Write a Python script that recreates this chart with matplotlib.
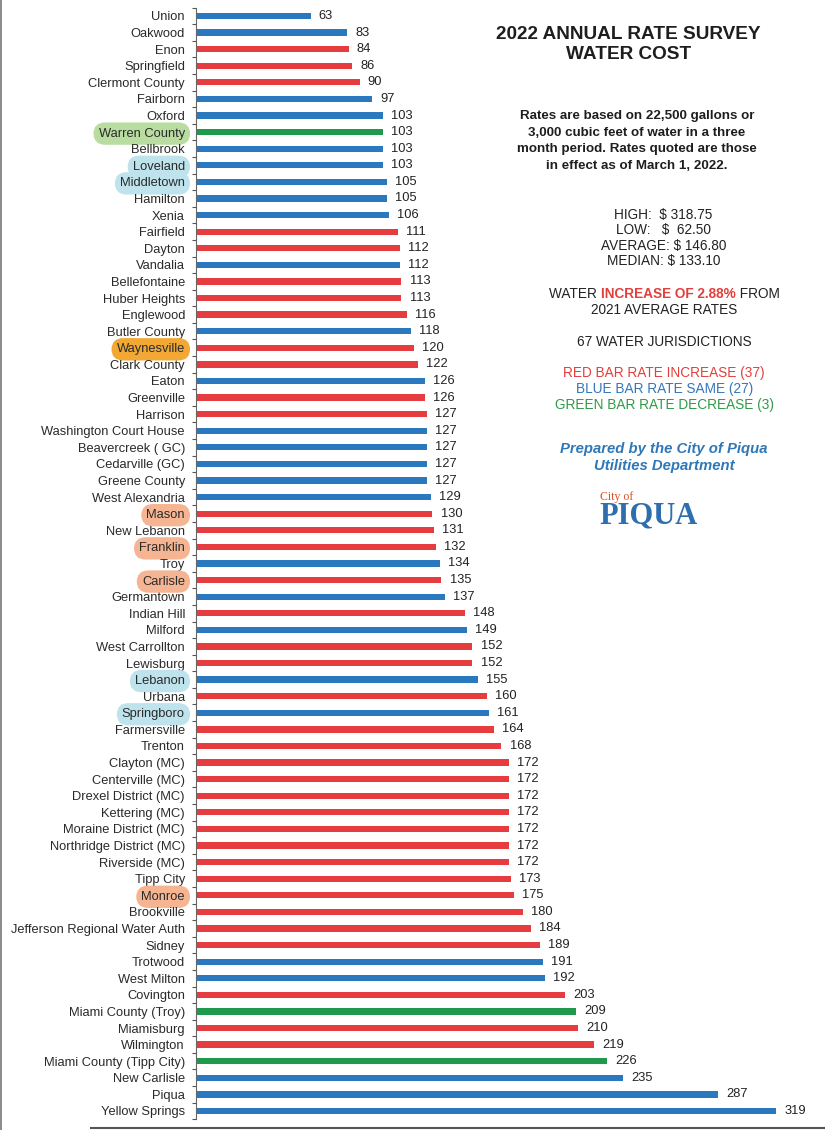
import matplotlib.pyplot as plt
import numpy as np

plt.rcParams['font.family'] = ['Liberation Sans', 'DejaVu Sans']

# Data
places = [
    "Union", "Oakwood", "Enon", "Springfield", "Clermont County", "Fairborn",
    "Oxford", "Warren County", "Bellbrook", "Loveland", "Middletown", "Hamilton",
    "Xenia", "Fairfield", "Dayton", "Vandalia", "Bellefontaine", "Huber Heights",
    "Englewood", "Butler County", "Waynesville", "Clark County", "Eaton",
    "Greenville", "Harrison", "Washington Court House", "Beavercreek ( GC)",
    "Cedarville (GC)", "Greene County", "West Alexandria", "Mason", "New Lebanon",
    "Franklin", "Troy", "Carlisle", "Germantown", "Indian Hill", "Milford",
    "West Carrollton", "Lewisburg", "Lebanon", "Urbana", "Springboro",
    "Farmersville", "Trenton", "Clayton (MC)", "Centerville (MC)",
    "Drexel District (MC)", "Kettering (MC)", "Moraine District (MC)",
    "Northridge District (MC)", "Riverside (MC)", "Tipp City", "Monroe",
    "Brookville", "Jefferson Regional Water Auth", "Sidney", "Trotwood",
    "West Milton", "Covington", "Miami County (Troy)", "Miamisburg", "Wilmington",
    "Miami County (Tipp City)", "New Carlisle", "Piqua", "Yellow Springs",
]
rates = [
    63, 83, 84, 86, 90, 97, 103, 103, 103, 103, 105, 105, 106, 111, 112, 112,
    113, 113, 116, 118, 120, 122, 126, 126, 127, 127, 127, 127, 127, 129, 130,
    131, 132, 134, 135, 137, 148, 149, 152, 152, 155, 160, 161, 164, 168, 172,
    172, 172, 172, 172, 172, 172, 173, 175, 180, 184, 189, 191, 192, 203, 209,
    210, 219, 226, 235, 287, 319,
]
# change vs 2021: "up", "same", "down"
change = [
    "same", "same", "up", "up", "up", "same", "same", "down", "same", "same",
    "same", "same", "same", "up", "up", "same", "up", "up", "up", "same", "up",
    "up", "same", "up", "up", "same", "same", "same", "same", "same", "up", "up",
    "up", "same", "up", "same", "up", "same", "up", "up", "same", "up", "same",
    "up", "up", "up", "up", "up", "up", "up", "up", "up", "up", "up", "up", "up",
    "up", "same", "same", "up", "down", "up", "up", "down", "same", "same", "same",
]
# highlighted labels in the scan
highlights = {
    "Warren County": "#b9dca0",
    "Loveland": "#bfe3ec",
    "Middletown": "#bfe3ec",
    "Lebanon": "#bfe3ec",
    "Springboro": "#bfe3ec",
    "Waynesville": "#f2a833",
    "Mason": "#f6b592",
    "Franklin": "#f6b592",
    "Carlisle": "#f6b592",
    "Monroe": "#f6b592",
}

bar_colors = {"up": "#e63c40", "same": "#2a79bf", "down": "#1f9a4c"}
RED, BLUE, GREEN = "#e2403c", "#3477b8", "#2f9a48"
DARK = "#222222"

fig = plt.figure(figsize=(8.25, 11.3), dpi=100)
ax = fig.add_axes([0.2376, 0.0095, 0.7624, 0.9837])

y = np.arange(len(places))
ax.barh(y, rates, height=0.38, color=[bar_colors[c] for c in change])
for yi, r in zip(y, rates):
    ax.text(r + 4.5, yi, f"{r}", va="center", ha="left", fontsize=9.3, color=DARK)

ax.set_xlim(0, 346)
ax.set_ylim(len(places) - 0.5, -0.5)
ax.set_yticks(y)
ax.set_yticklabels(places, fontsize=9.3, color="#2a2a2a")
ax.set_yticks(np.arange(len(places) + 1) - 0.5, minor=True)
ax.tick_params(axis="y", which="major", length=0, pad=8)
ax.tick_params(axis="y", which="minor", length=3, color="#555555", width=0.8)
ax.set_xticks([])
for s in ["top", "right", "bottom"]:
    ax.spines[s].set_visible(False)
ax.spines["left"].set_color("#666666")
ax.spines["left"].set_linewidth(0.8)

for lab in ax.get_yticklabels():
    c = highlights.get(lab.get_text())
    if c:
        lab.set_bbox(dict(boxstyle="round,pad=0.4,rounding_size=0.9", fc=c, ec="none"))

# Right-hand notes
fig.text(0.762, 0.9606, "2022 ANNUAL RATE SURVEY\nWATER COST", ha="center", va="center",
         fontsize=13.7, fontweight="bold", color="#1e1e1e", linespacing=1.2)
fig.text(0.772, 0.8752, "Rates are based on 22,500 gallons or\n3,000 cubic feet of water in a three\n"
         "month period. Rates quoted are those\nin effect as of March 1, 2022.",
         ha="center", va="center", fontsize=9.6, fontweight="bold", color="#1e1e1e",
         linespacing=1.55)
fig.text(0.804, 0.7894, "HIGH:  $ 318.75\nLOW:   $  62.50\nAVERAGE: $ 146.80\nMEDIAN: $ 133.10",
         ha="center", va="center", fontsize=9.8, color=DARK, linespacing=1.14)

# mixed colour line
fig.canvas.draw()
renderer = fig.canvas.get_renderer()
parts = [("WATER ", DARK, "normal"), ("INCREASE OF 2.88%", RED, "bold"),
         (" FROM", DARK, "normal")]
widths = []
for txt, col, w in parts:
    t = fig.text(0, 0, txt, fontsize=9.8, fontweight=w)
    widths.append(t.get_window_extent(renderer).width / fig.bbox.width)
    t.remove()
x0 = 0.8055 - sum(widths) / 2
for (txt, col, w), wd in zip(parts, widths):
    fig.text(x0, 0.7398, txt, fontsize=9.8, fontweight=w, color=col, ha="left", va="center")
    x0 += wd
fig.text(0.805, 0.7255, "2021 AVERAGE RATES", ha="center", va="center", fontsize=9.8, color=DARK)

fig.text(0.805, 0.6973, "67 WATER JURISDICTIONS", ha="center", va="center", fontsize=9.8,
         color=DARK)
fig.text(0.805, 0.6699, "RED BAR RATE INCREASE (37)", ha="center", va="center", fontsize=9.8,
         color=RED)
fig.text(0.805, 0.6558, "BLUE BAR RATE SAME (27)", ha="center", va="center", fontsize=9.8,
         color=BLUE)
fig.text(0.805, 0.6416, "GREEN BAR RATE DECREASE (3)", ha="center", va="center", fontsize=9.8,
         color=GREEN)

fig.text(0.805, 0.5951, "Prepared by the City of Piqua\nUtilities Department", ha="center",
         va="center", fontsize=10.7, fontweight="bold", fontstyle="italic", color="#2f78b8",
         linespacing=1.25)

# logo
fig.text(0.727, 0.5605, "City of", fontsize=8.5, color="#d9502a", family="Liberation Serif",
         ha="left", va="center")
fig.text(0.726, 0.5435, "PIQUA", fontsize=22, fontweight="bold", color="#2d6fae",
         family="Liberation Serif", ha="left", va="center")

# scan edges
fig.add_artist(plt.Line2D([0.11, 1.0], [0.0015, 0.0015], color="#555555", lw=1.5))
fig.add_artist(plt.Line2D([0.0015, 0.0015], [0.0, 1.0], color="#777777", lw=1.2))

fig.savefig("out.png", dpi=100)
